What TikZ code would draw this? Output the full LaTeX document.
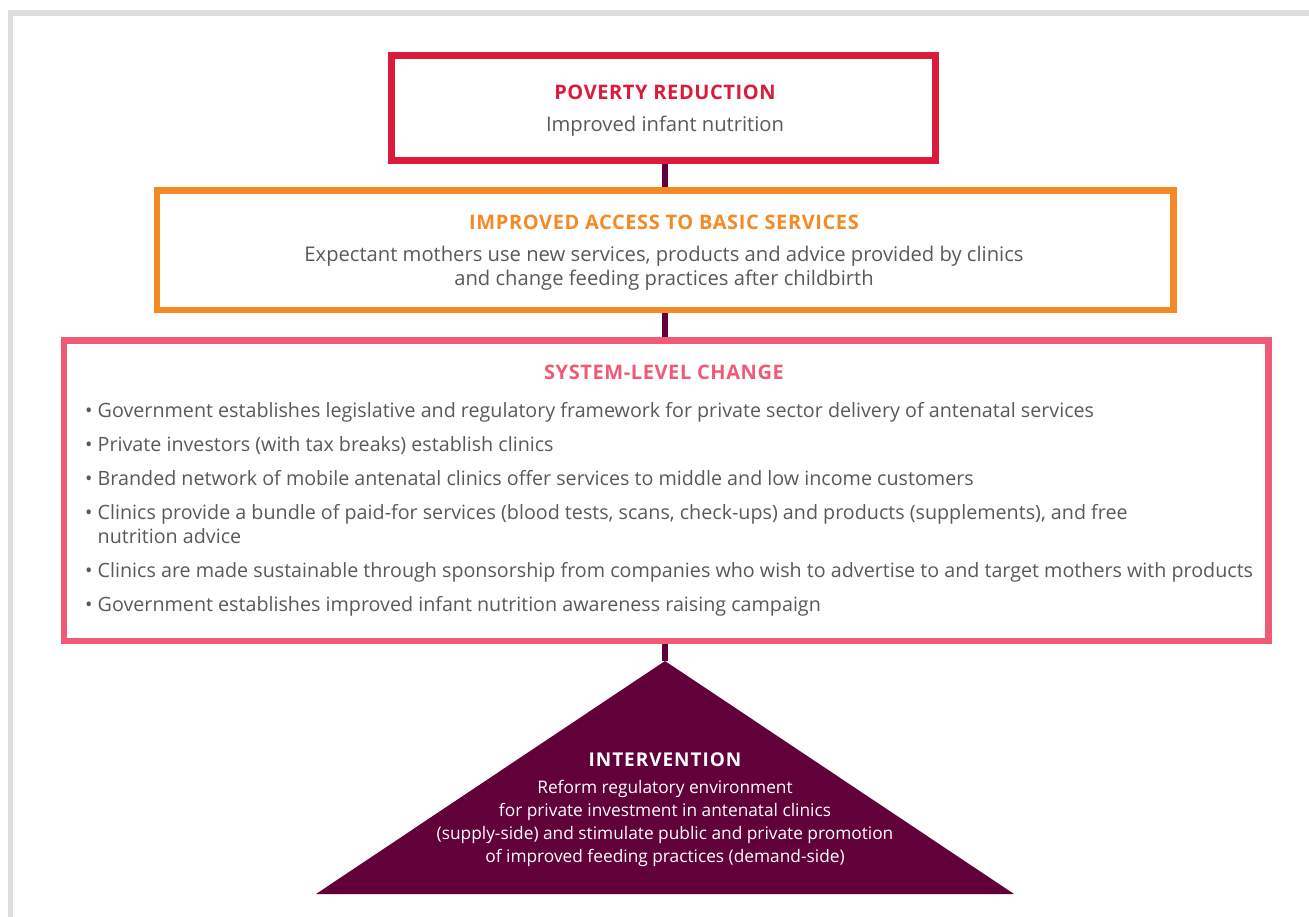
\documentclass[tikz,border=0pt]{standalone}
\usepackage{fontspec}
\setmainfont{Open Sans}
\definecolor{cred}{HTML}{DC1A3B}
\definecolor{corange}{HTML}{F58A25}
\definecolor{cpink}{HTML}{EF5A77}
\definecolor{cmaroon}{HTML}{62003A}
\definecolor{ctext}{HTML}{58595B}
\definecolor{cframe}{HTML}{DCDDDE}
\begin{document}
\begin{tikzpicture}[x=1pt,y=-1pt,
  box/.style={draw, line width=6.5pt, fill=none, inner sep=0pt},
  conn/.style={draw=cmaroon, line width=6pt},
  ttl/.style={anchor=base, inner sep=0pt, font=\bfseries\fontsize{20}{24}\selectfont\addfontfeature{LetterSpace=3}},
  body/.style={anchor=base, inner sep=0pt, text=ctext, align=center, font=\fontsize{20.2}{24.3}\selectfont},
  bul/.style={anchor=base west, inner sep=0pt, text=ctext, align=left, font=\fontsize{19.7}{24}\selectfont},
  tri/.style={anchor=base, inner sep=0pt, text=white, align=center, font=\fontsize{17.3}{23.2}\selectfont}]
\useasboundingbox (0,0) rectangle (1309,917);
\draw[cframe, line width=5.5pt] (10.5,917) -- (10.5,13) -- (1309,13);
% boxes
\node[box, draw=cred, minimum width=544.4pt, minimum height=105pt] (pov) at (663.5,107.8) {};
\node[box, draw=corange, minimum width=1016.3pt, minimum height=119.3pt] (acc) at (665.15,250.35) {};
\node[box, draw=cpink, minimum width=1204.3pt, minimum height=300.3pt] (sys) at (666.15,490.85) {};
% triangle
\coordinate (apex) at (665,661);
\coordinate (tl) at (316,894);
\coordinate (tr) at (1014,894);
\fill[cmaroon] (tl) -- (apex) -- (tr) -- cycle;
% connectors
\draw[conn] (pov.south -| apex) -- (acc.north -| apex);
\draw[conn] (acc.south -| apex) -- (sys.north -| apex);
\draw[conn] (sys.south -| apex) -- (apex);
% texts
\node[ttl, text=cred] (povt) at (665,99.3) {POVERTY REDUCTION};
\node[body] (povb) at (665,131.7) {Improved infant nutrition};
\node[ttl, text=corange] (acct) at (664,230) {IMPROVED ACCESS TO BASIC SERVICES};
\node[body] (accb) at (664,286) {Expectant mothers use new services, products and advice provided by clinics\\and change feeding practices after childbirth};
\node[ttl, text=cpink] (syst) at (664,379.3) {SYSTEM-LEVEL CHANGE};
\node[bul] (s1) at (85,417.3) {• Government establishes legislative and regulatory framework for private sector delivery of antenatal services};
\node[bul] (s2) at (85,451.7) {• Private investors (with tax breaks) establish clinics};
\node[bul] (s3) at (85,485.7) {• Branded network of mobile antenatal clinics offer services to middle and low income customers};
\node[bul] (s4) at (85,543.3) {• Clinics provide a bundle of paid-for services (blood tests, scans, check-ups) and products (supplements), and free\\\hphantom{• }nutrition advice};
\node[bul] (s5) at (85,577.3) {• Clinics are made sustainable through sponsorship from companies who wish to advertise to and target mothers with products};
\node[bul] (s6) at (85,611.7) {• Government establishes improved infant nutrition awareness raising campaign};
\node[tri, font=\bfseries\fontsize{19}{23.2}\selectfont\addfontfeature{LetterSpace=5}] (intt) at (665,766.7) {INTERVENTION};
\node[tri] (intb) at (665,862.7) {Reform regulatory environment\\for private investment in antenatal clinics\\(supply-side) and stimulate public and private promotion\\of improved feeding practices (demand-side)};
\end{tikzpicture}
\end{document}
